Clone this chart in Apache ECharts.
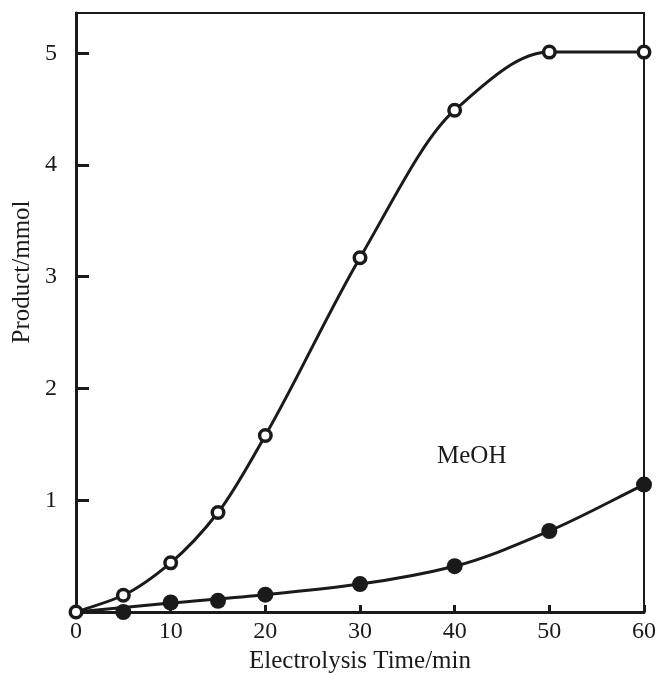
<!DOCTYPE html>
<html>
<head>
<meta charset="utf-8">
<script src="https://cdn.jsdelivr.net/npm/echarts@6/dist/echarts.min.js"></script>
<style>
  html, body { margin: 0; padding: 0; background: #fff; }
  #chart { width: 659px; height: 673px; }
</style>
</head>
<body>
<div id="chart"></div>
<script>
// Electrolysis time (min)
const times = [0, 5, 10, 15, 20, 30, 40, 50, 60];
// Total product, open circles (mmol)
const totalProduct = [0, 0.15, 0.44, 0.89, 1.58, 3.17, 4.49, 5.01, 5.01];
// MeOH, filled circles (mmol)
const meohProduct = [0, 0.0, 0.085, 0.10, 0.155, 0.25, 0.41, 0.725, 1.14];
// Smoothed trend drawn through the MeOH measurements
const meohTrendTimes = [0, 10, 20, 30, 40, 50, 60];
const meohTrend = [0, 0.08, 0.155, 0.25, 0.41, 0.725, 1.14];
const xTicks = [0, 10, 20, 30, 40, 50, 60];
const yTicks = [1, 2, 3, 4, 5];

const ink = '#1a1a1a';
const serif = '"Liberation Serif", "DejaVu Serif", serif';

const pairs = (xs, ys) => xs.map((t, i) => [t, ys[i]]);

// Monotone cubic (Fritsch–Carlson) tangents for a set of knots
function monotoneTangents(xs, ys) {
  const n = xs.length;
  const h = [], d = [];
  for (let i = 0; i < n - 1; i++) {
    h.push(xs[i + 1] - xs[i]);
    d.push((ys[i + 1] - ys[i]) / h[i]);
  }
  const m = new Array(n);
  m[0] = d[0];
  m[n - 1] = d[n - 2];
  for (let i = 1; i < n - 1; i++) {
    if (d[i - 1] * d[i] <= 0) { m[i] = 0; continue; }
    const w1 = 2 * h[i] + h[i - 1];
    const w2 = h[i] + 2 * h[i - 1];
    m[i] = (w1 + w2) / (w1 / d[i - 1] + w2 / d[i]);
  }
  return m;
}

// Custom series that strokes a smooth curve through its data knots
function curveSeries(xs, ys) {
  const m = monotoneTangents(xs, ys);
  return {
    type: 'custom',
    data: pairs(xs, ys),
    encode: { x: 0, y: 1 },
    silent: true,
    z: 2,
    renderItem: (params, api) => {
      if (params.dataIndex !== 0) return null;
      const children = [];
      for (let i = 0; i < xs.length - 1; i++) {
        const hx = (xs[i + 1] - xs[i]) / 3;
        const p0 = api.coord([xs[i], ys[i]]);
        const c1 = api.coord([xs[i] + hx, ys[i] + m[i] * hx]);
        const c2 = api.coord([xs[i + 1] - hx, ys[i + 1] - m[i + 1] * hx]);
        const p1 = api.coord([xs[i + 1], ys[i + 1]]);
        children.push({
          type: 'bezierCurve',
          shape: { x1: p0[0], y1: p0[1], cpx1: c1[0], cpy1: c1[1], cpx2: c2[0], cpy2: c2[1], x2: p1[0], y2: p1[1] },
          style: { stroke: ink, lineWidth: 3, fill: null, lineCap: 'round' }
        });
      }
      return { type: 'group', children };
    }
  };
}

const chart = echarts.init(document.getElementById('chart'), null, { renderer: 'canvas' });
chart.setOption({
  animation: false,
  backgroundColor: '#fff',
  grid: {
    left: 76, right: 15, top: 13, bottom: 61,
    outerBoundsMode: 'none',
    containLabel: false,
    show: true, borderColor: ink, borderWidth: 2, backgroundColor: 'transparent'
  },
  xAxis: {
    type: 'value', min: 0, max: 60, interval: 10,
    name: 'Electrolysis Time/min', nameLocation: 'middle', nameGap: 31,
    nameTextStyle: { fontFamily: serif, fontSize: 25, color: ink },
    axisLine: { show: true, lineStyle: { color: ink, width: 3 } },
    axisTick: { show: true, inside: true, length: 7, lineStyle: { color: ink, width: 3 } },
    axisLabel: {
      fontFamily: serif, fontSize: 24, color: ink, margin: 8,
      formatter: (v) => xTicks.includes(v) ? String(v) : ''
    },
    splitLine: { show: false }
  },
  yAxis: {
    type: 'value', min: 0, max: 5.36, interval: 1,
    axisLine: { show: true, lineStyle: { color: ink, width: 3 } },
    axisTick: { show: true, inside: true, length: 13, lineStyle: { color: ink, width: 3 } },
    axisLabel: {
      fontFamily: serif, fontSize: 24, color: ink, margin: 19,
      showMaxLabel: false,
      formatter: (v) => yTicks.includes(v) ? String(v) : ''
    },
    splitLine: { show: false }
  },
  series: [
    curveSeries(times, totalProduct),
    curveSeries(meohTrendTimes, meohTrend),
    {
      name: 'MeOH',
      type: 'scatter',
      data: pairs(times, meohProduct),
      symbol: 'circle',
      symbolSize: (val) => val[0] === 0 ? 0 : 16,
      itemStyle: { color: ink, opacity: 1 },
      z: 3
    },
    {
      name: 'Total',
      type: 'scatter',
      data: pairs(times, totalProduct),
      symbol: 'circle',
      symbolSize: 11.5,
      itemStyle: { color: '#fff', borderColor: ink, borderWidth: 3.5, opacity: 1 },
      z: 4
    }
  ],
  graphic: [
    {
      type: 'text',
      x: 22, y: 272,
      rotation: Math.PI / 2,
      style: {
        text: 'Product/mmol', fontFamily: serif, fontSize: 25, fill: ink,
        align: 'center', verticalAlign: 'middle'
      }
    },
    {
      type: 'text',
      left: 437, top: 444,
      style: { text: 'MeOH', fontFamily: serif, fontSize: 25, fill: ink }
    }
  ]
});
</script>
</body>
</html>
